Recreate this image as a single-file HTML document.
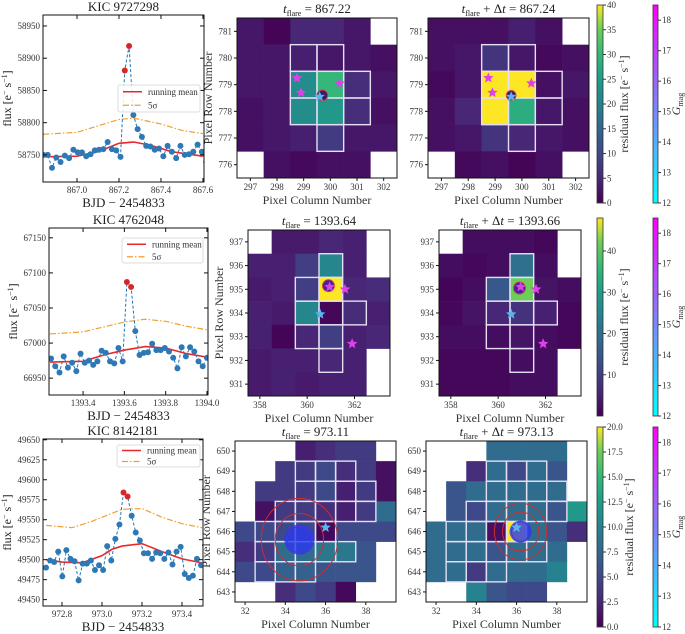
<!DOCTYPE html>
<html><head><meta charset="utf-8"><style>
html,body{margin:0;padding:0;background:#fff;}
svg{display:block;}
svg text{font-family:"Liberation Serif","DejaVu Serif",serif;}
</style></head><body>
<svg id="fig" width="685" height="634" viewBox="0 0 685 634" xmlns="http://www.w3.org/2000/svg" font-family="Liberation Serif, serif">
<defs>
<linearGradient id="viridis" x1="0" y1="1" x2="0" y2="0">
<stop offset="0" stop-color="#440154"/><stop offset="0.13" stop-color="#482878"/><stop offset="0.25" stop-color="#3e4989"/><stop offset="0.38" stop-color="#31688e"/><stop offset="0.5" stop-color="#26828e"/><stop offset="0.63" stop-color="#1f9e89"/><stop offset="0.75" stop-color="#35b779"/><stop offset="0.88" stop-color="#6ece58"/><stop offset="1" stop-color="#fde725"/>
</linearGradient>
<linearGradient id="cool" x1="0" y1="1" x2="0" y2="0">
<stop offset="0" stop-color="#00ffff"/><stop offset="1" stop-color="#ff00ff"/>
</linearGradient>
</defs>
</svg>
<script>
// ---------- Light curve data ----------
const lc1Flux = [58750,58750,58730,58746,58739,58749,58745,58758,58754,58754,58748,58751,58757,58758,58759,58770,58759,58757,58747,58881,58919,58812,58790,58778,58764,58763,58758,58760,58748,58764,58755,58745,58764,58750,58751,58755,58766,58755,58739];
const lc1Start = 866.84;
const lc1MeanT = [866.84,867.0,867.1,867.2,867.27,867.35,867.45,867.6];
const lc1Mean = [58747,58748,58755,58768,58770,58765,58755,58748];
const lc1SigT = [866.84,867.0,867.1,867.2,867.27,867.4,867.5,867.6];
const lc1Sig = [58782,58785,58795,58805,58807,58798,58788,58783];

const lc2Flux = [66978,66967,66958,66981,66965,66972,66960,66985,66972,66975,66969,66974,66989,66986,66974,66971,66993,66974,67087,67080,67017,66983,66986,66987,66999,66990,66990,66993,66988,66979,66964,66994,66981,66994,66988,66974,66967,66979];
const lc2Start = 1393.245;
const lc2MeanT = [1393.24,1393.4,1393.5,1393.6,1393.7,1393.8,1393.9,1394.0];
const lc2Mean = [66973,66974,66983,66990,66995,66993,66985,66980];
const lc2SigT = [1393.24,1393.4,1393.5,1393.6,1393.7,1393.8,1393.9,1394.0];
const lc2Sig = [67013,67016,67023,67030,67034,67031,67024,67019];

const lc3Flux = [49490,49499,49497,49510,49479,49512,49501,49498,49474,49495,49495,49499,49487,49493,49487,49517,49499,49526,49544,49584,49579,49555,49534,49524,49508,49508,49501,49509,49508,49501,49509,49494,49510,49516,49482,49477,49480,49501,49493];
const lc3Start = 972.72;
const lc3MeanT = [972.72,972.8,972.9,973.0,973.05,973.1,973.2,973.3,973.4,973.5];
const lc3Mean = [49500,49497,49496,49505,49513,49517,49520,49510,49501,49496];
const lc3SigT = [972.72,972.85,972.95,973.05,973.1,973.2,973.3,973.4,973.5];
const lc3Sig = [49543,49540,49548,49558,49563,49564,49553,49545,49540];
const cadence = 0.0204;
const flareIdx = [[19,20],[18,19],[19,20]];

// ---------- Heatmap data (rows listed top to bottom) ----------
const hm1aVals = [[3,0.5,5,5,3,null],[3,3,4,3,3,2],[3,3,22,30,6,3],[2,3,22,24,6,2],[2,3,4,8,3,3],[null,2,1,2,2,null]];
const hm1bVals = [[2,2,2,4,2,null],[2,3,7,3,1,2],[1,3,40,40,2,3],[2,5,40,28,3,2],[2,3,7,5,3,2],[null,1,2,0.5,2,null]];
const hm2aVals = [[null,4,4,6,5,null],[5,5,10,25,5,null],[4,5,10,48,6,7],[5,4,25,1,7,5],[5,0.5,6,10,5,6],[4,5,5,6,5,null],[4,5,4,5,5,null]];
const hm2bVals = [[null,2,2,2,1,null],[2,1,2,20,2,null],[0.5,2,15,42,3,2],[1,3,6,8,5,1],[2,2,2,3,2,1],[1,1,1,2,2,null],[1,1,1,2,2,null]];
const hm3aVals = [[null,null,null,2,3,4,4,null],[null,null,4,4,5,3,4,1],[null,4,4,4,5,2,4,1],[null,1,4,4,3,2,4,8],[5,5,5,5,0.5,5,5,5],[3,4,8,8,9,9,6,null],[5,5,7,7,6,6,6,null],[null,null,3,5,4,0.5,null,null]];
const hm3bVals = [[null,null,null,8,8,8,8,null],[null,null,3,8,5,8,6,null],[null,6,8,8,8,8,8,null],[null,6,5,8,8,8,6,12],[8,8,8,1,20,8,6,3],[8,8,8,6,8,8,8,null],[8,8,4,8,8,8,10,null],[null,null,10,6,5,5,null,null]];
const ap1 = [[299,780],[300,780],[299,779],[300,779],[301,779],[299,778],[300,778],[301,778],[300,777]];
const ap2 = [[361,936],[360,935],[361,935],[360,934],[361,934],[362,934],[360,933],[361,933],[361,932]];
const ap3 = [[35,649],[36,649],[37,649],[35,648],[36,648],[37,648],[38,648],[34,647],[35,647],[36,647],[37,647],[38,647],[33,646],[34,646],[35,646],[36,646],[33,645],[34,645],[35,645],[36,645],[37,645],[33,644],[34,644],[35,644]];
const stars1 = [[298.75,779.25,'m'],[298.9,778.7,'m'],[300.35,779.05,'m'],[299.6,778.55,'c']];
const stars2 = [[360.95,935.1,'m'],[361.6,935.0,'m'],[361.9,932.7,'m'],[360.55,933.95,'c']];
const stars3 = [[36.0,646.2,'c']];
const cb1Ticks = [0,5,10,15,20,25,30,35,40];
const cb2Ticks = [10,20,30,40];
const cb3Ticks = [0,2.5,5,7.5,10,12.5,15,17.5,20];
const gTicks = [12,13,14,15,16,17,18];

const NS='http://www.w3.org/2000/svg';
const svg=document.getElementById('fig');
function el(tag,attrs,parent){const e=document.createElementNS(NS,tag);for(const k in attrs)e.setAttribute(k,attrs[k]);(parent||svg).appendChild(e);return e;}
function txt(s,attrs,parent){const e=el('text',attrs,parent);e.textContent=s;return e;}
const VIR=['#440154','#482878','#3e4989','#31688e','#26828e','#1f9e89','#35b779','#6ece58','#fde725'];
const VST=[0,0.13,0.25,0.38,0.5,0.63,0.75,0.88,1];
function hex(c){return [parseInt(c.substr(1,2),16),parseInt(c.substr(3,2),16),parseInt(c.substr(5,2),16)];}
function viridis(t){t=Math.max(0,Math.min(1,t));for(let i=0;i<VST.length-1;i++){if(t<=VST[i+1]){const f=(t-VST[i])/(VST[i+1]-VST[i]);const a=hex(VIR[i]),b=hex(VIR[i+1]);return 'rgb('+a.map((v,j)=>Math.round(v+(b[j]-v)*f)).join(',')+')';}}return VIR[8];}

function lightCurve(box,xr,yr,xt,yt,xfmt,flux,start,mT,mV,sT,sV,fl,title,leg){
  const [x0,y0,x1,y1]=box;
  const sx=v=>x0+(v-xr[0])/(xr[1]-xr[0])*(x1-x0);
  const sy=v=>y1-(v-yr[0])/(yr[1]-yr[0])*(y1-y0);
  const g=el('g',{});
  
  
  const cid='c'+Math.round(x0)+'_'+Math.round(y0);
  const cp=el('clipPath',{id:cid},g);el('rect',{x:x0,y:y0,width:x1-x0,height:y1-y0},cp);
  const pg=el('g',{'clip-path':'url(#'+cid+')'},g);
  const line=(ts,vs,attrs,name)=>{const p=el('polyline',Object.assign({points:ts.map((t,i)=>sx(t)+','+sy(vs[i])).join(' '),fill:'none'},attrs),pg);};
  line(sT,sV,{stroke:'#f0a030','stroke-width':1.2,'stroke-dasharray':'6,2,1.5,2'},'five-sigma-line');
  const ts=flux.map((v,i)=>start+i*cadence);
  line(ts,flux,{stroke:'#1f77b4','stroke-width':1,'stroke-dasharray':'3,2'},'flux-dashed-line');
  line(mT,mV,{stroke:'#e8282b','stroke-width':1.6},'running-mean-line');
  flux.forEach((v,i)=>{const c=el('circle',{cx:sx(ts[i]),cy:sy(v),r:3,fill:fl.includes(i)?'#d62728':'#2e78b5'},pg);});
  const fr=el('rect',{x:x0,y:y0,width:x1-x0,height:y1-y0,fill:'none',stroke:'#111','stroke-width':1},g);
  
  xt.forEach(v=>{const X=sx(v);el('line',{x1:X,x2:X,y1:y1,y2:y1-4,stroke:'#111'},g);el('line',{x1:X,x2:X,y1:y0,y2:y0+4,stroke:'#111'},g);
    const t=txt(xfmt(v),{x:X,y:y1+11,'font-size':9,'text-anchor':'middle',fill:'#333'},g);});
  yt.forEach(v=>{const Y=sy(v);el('line',{x1:x0,x2:x0+4,y1:Y,y2:Y,stroke:'#111'},g);el('line',{x1:x1,x2:x1-4,y1:Y,y2:Y,stroke:'#111'},g);
    const t=txt(String(v),{x:x0-3,y:Y+3,'font-size':9,'text-anchor':'end',fill:'#333'},g);});
  const tt=txt(title,{x:(x0+x1)/2,y:y0-4,'font-size':13,'text-anchor':'middle',fill:'#222'},g);
  const xl=txt('BJD − 2454833',{x:(x0+x1)/2,y:y1+25,'font-size':13,'text-anchor':'middle',fill:'#222'},g);
  const yl=txt('',{x:0,y:0,'font-size':12,'text-anchor':'middle',fill:'#222',transform:'translate('+(x0-32)+','+((y0+y1)/2)+') rotate(-90)'},g);
  yl.innerHTML='flux [e<tspan dy="-4" font-size="8">−</tspan><tspan dy="4"> s</tspan><tspan dy="-4" font-size="8">−1</tspan><tspan dy="4">]</tspan>';
  
  const [lx0,ly0,lx1,ly1]=leg;
  const lg=el('g',{},g);
  el('rect',{x:lx0,y:ly0,width:lx1-lx0,height:ly1-ly0,fill:'#fff','fill-opacity':0.85,stroke:'#ddd',rx:2},lg);
  const h=(ly1-ly0)/2;
  el('line',{x1:lx0+5,x2:lx0+24,y1:ly0+h/2,y2:ly0+h/2,stroke:'#e8282b','stroke-width':1.6},lg);
  const e1=txt('running mean',{x:lx0+30,y:ly0+h/2+3,'font-size':9,fill:'#333'},lg);
  el('line',{x1:lx0+5,x2:lx0+24,y1:ly0+1.5*h,y2:ly0+1.5*h,stroke:'#f0a030','stroke-width':1.2,'stroke-dasharray':'6,2,1.5,2'},lg);
  const e2=txt('5σ',{x:lx0+30,y:ly0+1.5*h+3,'font-size':9,fill:'#333'},lg);
}

function starPath(cx,cy,r){let d='';for(let i=0;i<10;i++){const a=-Math.PI/2+i*Math.PI/5;const rr=i%2?r*0.45:r;d+=(i?'L':'M')+(cx+rr*Math.cos(a)).toFixed(1)+','+(cy+rr*Math.sin(a)).toFixed(1);}return d+'Z';}

function heatmap(box,colMin,rowMax,vals,vmax,ap,stars,xt,title,ylab,extra){
  const [x0,y0,x1,y1]=box;const nc=vals[0].length,nr=vals.length;
  const cw=(x1-x0)/nc,ch=(y1-y0)/nr;
  const sx=c=>x0+(c-colMin+0.5)*cw, sy=r=>y0+(rowMax+0.5-r)*ch;
  const g=el('g',{});
  vals.forEach((row,ri)=>row.forEach((v,ci)=>{if(v===null)return;const r=el('rect',{x:x0+ci*cw,y:y0+ri*ch,width:cw+0.3,height:ch+0.3,fill:viridis(v/vmax)},g);}));
  ap.forEach(([c,r])=>{const a=el('rect',{x:sx(c-0.5),y:sy(r+0.5),width:cw,height:ch,fill:'none',stroke:'#e4dff2','stroke-width':1.4},g);});
  if(extra)extra(g,sx,sy,cw);
  stars.forEach(([c,r,k])=>{const s=el('path',{d:starPath(sx(c),sy(r),5.5),fill:k==='m'?'#e040e8':'#5ab4f0'},g);});
  el('rect',{x:x0,y:y0,width:x1-x0,height:y1-y0,fill:'none',stroke:'#111','stroke-width':1},g);
  xt.forEach(v=>{const X=sx(v);el('line',{x1:X,x2:X,y1:y1,y2:y1+3,stroke:'#111'},g);const t=txt(String(v),{x:X,y:y1+12,'font-size':9,'text-anchor':'middle',fill:'#333'},g);});
  for(let r=rowMax-nr+1;r<=rowMax;r++){const Y=sy(r);el('line',{x1:x0,x2:x0-3,y1:Y,y2:Y,stroke:'#111'},g);const t=txt(String(r),{x:x0-5,y:Y+3,'font-size':9,'text-anchor':'end',fill:'#333'},g);}
  const tt=txt('',{x:(x0+x1)/2,y:y0-5,'font-size':13,'text-anchor':'middle',fill:'#222'},g);
  tt.innerHTML=title;
  const xl=txt('Pixel Column Number',{x:(x0+x1)/2,y:y1+26,'font-size':12,'text-anchor':'middle',fill:'#333'},g);
  if(ylab){const yl=txt('Pixel Row Number',{x:0,y:0,'font-size':12,'text-anchor':'middle',fill:'#333',transform:'translate('+(x0-25)+','+((y0+y1)/2)+') rotate(-90)'},g);}
}

function colorbar(box,grad,vmin,vmax,ticks,fmt,label,name){
  const [x0,y0,x1,y1]=box;
  const g=el('g',{});
  el('rect',{x:x0,y:y0,width:x1-x0,height:y1-y0,fill:'url(#'+grad+')',stroke:'#333','stroke-width':0.8},g);
  ticks.forEach(v=>{const Y=y1-(v-vmin)/(vmax-vmin)*(y1-y0);el('line',{x1:x1,x2:x1+3,y1:Y,y2:Y,stroke:'#333'},g);const t=txt(fmt(v),{x:x1+4,y:Y+3,'font-size':9,fill:'#333'},g);});
  const l=txt('',{x:0,y:0,'font-size':label[1],'text-anchor':'middle',fill:'#333',transform:'translate('+label[2]+','+((y0+y1)/2)+') rotate(-90)'},g);l.innerHTML=label[0];
}

const tf='<tspan font-style="italic">t</tspan><tspan font-size="8" dy="3">flare</tspan><tspan dy="-3"> = ';
const tfd='<tspan font-style="italic">t</tspan><tspan font-size="8" dy="3">flare</tspan><tspan dy="-3"> + Δ</tspan><tspan font-style="italic">t</tspan><tspan> = ';
const f1=v=>v.toFixed(1);
lightCurve([43,15,204,182],[866.838,867.605],[58708,58967],[867.0,867.2,867.4,867.6],[58750,58800,58850,58900,58950],f1,lc1Flux,lc1Start,lc1MeanT,lc1Mean,lc1SigT,lc1Sig,flareIdx[0],'KIC 9727298',[118,85,200,112]);
lightCurve([49,228,208,395],[1393.235,1394.005],[66926,67164],[1393.4,1393.6,1393.8,1394.0],[66950,67000,67050,67100,67150],f1,lc2Flux,lc2Start,lc2MeanT,lc2Mean,lc2SigT,lc2Sig,flareIdx[1],'KIC 4762048',[122,238,203,263]);
lightCurve([43,439,203,606],[972.705,973.505],[49442,49651],[972.8,973.0,973.2,973.4],[49450,49475,49500,49525,49550,49575,49600,49625,49650],f1,lc3Flux,lc3Start,lc3MeanT,lc3Mean,lc3SigT,lc3Sig,flareIdx[2],'KIC 8142181',[117,445,200,467]);

const blob=(c,r,rad,col)=>(g,sx,sy,cw)=>{el('circle',{cx:sx(c),cy:sy(r),r:rad*cw,fill:col,stroke:'#c84040','stroke-width':1},g);};
heatmap([237,18,397,178],297,781,hm1aVals,40,ap1,stars1,[297,298,299,300,301,302],tf+'867.22</tspan>',true,blob(299.7,778.6,0.2,'#3a1a70'));
heatmap([428,18,589,178],297,781,hm1bVals,40,ap1,stars1,[297,298,299,300,301,302],tfd+'867.24</tspan>',false,blob(299.6,778.6,0.18,'#3a1a70'));
heatmap([248,230,390,396],358,937,hm2aVals,48,ap2,stars2,[358,360,362],tf+'1393.64</tspan>',true,blob(360.9,935.15,0.25,'#4a20a0'));
heatmap([439,230,581,396],358,937,hm2bVals,48,ap2,stars2,[358,360,362],tfd+'1393.66</tspan>',false,blob(360.9,935.05,0.25,'#4a20a0'));
const cloud=(c,r,rad,rings)=>(g,sx,sy,cw)=>{rings.forEach(k=>el('ellipse',{cx:sx(c),cy:sy(r),rx:k*cw,ry:k*cw*1.08,fill:'none',stroke:'#c83030','stroke-width':1},g));const b=el('circle',{cx:sx(c),cy:sy(r),r:rad*cw,fill:'#2a3af0','fill-opacity':0.8},g);};
heatmap([235,441,396,602],32,650,hm3aVals,20,ap3,stars3,[32,34,36,38],tf+'973.11</tspan>',true,cloud(34.7,645.6,0.75,[0.6,1.2,1.9]));
heatmap([426,441,587,602],32,650,hm3bVals,20,ap3,stars3,[32,34,36,38],tfd+'973.13</tspan>',false,cloud(36.2,646.0,0.55,[0.45,0.9,1.3]));

const rl='residual flux [e<tspan dy="-4" font-size="8">−</tspan><tspan dy="4"> s</tspan><tspan dy="-4" font-size="8">−1</tspan><tspan dy="4">]</tspan>';
const gl='<tspan font-style="italic">G</tspan><tspan font-size="8" dy="3">mag</tspan>';
const ig=v=>String(v);
colorbar([597,5,603,203],'viridis',0,40,cb1Ticks,ig,[rl,12,628],'flux-colorbar');
colorbar([597,218,603,416],'viridis',0,48,cb2Ticks,ig,[rl,12,628],'flux-colorbar');
colorbar([597,427,603,627],'viridis',0,20,cb3Ticks,v=>v.toFixed(1),[rl,12,633],'flux-colorbar');
[[5,203],[218,416],[427,627]].forEach(([a,b])=>colorbar([653,a,658,b],'cool',12,18.5,gTicks,ig,[gl,12,680],'gmag-colorbar'));
</script>
</body></html>
